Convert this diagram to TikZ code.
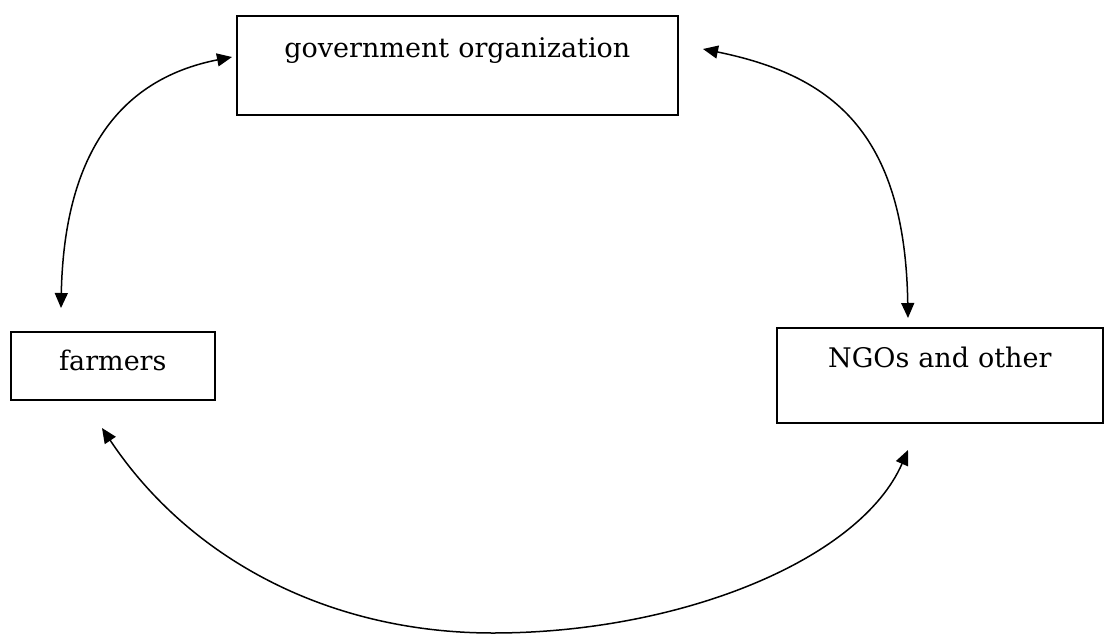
\documentclass[tikz,border=0pt]{standalone}
\usepackage{fontspec}
\setmainfont{DejaVu Serif}
\usetikzlibrary{arrows.meta}
\begin{document}
\begin{tikzpicture}[x=1pt,y=-1pt,
  box/.style={draw, line width=1.7pt, inner sep=0pt, align=center,
    font=\fontsize{27}{32}\selectfont},
  link/.style={line width=1.5pt, {Triangle[length=15pt,width=13pt]}-{Triangle[length=15pt,width=13pt]}}]
\useasboundingbox (0,0) rectangle (1104,635);
\node[box, anchor=north west, text width=441pt, text height=42pt, text depth=57pt] (gov) at (236,15) {government organization};
\node[box, anchor=north west, text width=204pt, text height=39pt, text depth=29pt] (farm) at (10,331) {farmers};
\node[box, anchor=north west, text width=326pt, text height=40pt, text depth=55pt] (ngo) at (776,327) {NGOs and other};
\coordinate (fTop) at (61,308);
\coordinate (gLeft) at (232,57);
\coordinate (gRight) at (703,49);
\coordinate (nTop) at (908,318);
\coordinate (fBot) at (102,428);
\coordinate (nBot) at (908,450);
\coordinate (low) at (493,633);
\draw[link] (fTop) .. controls (64,160) and (115,80) .. (gLeft);
\draw[link] (gRight) .. controls (830,75) and (905,130) .. (nTop);
\draw[link] (fBot) .. controls (190,560) and (330,633) .. (low) .. controls (680,633) and (860,560) .. (nBot);
\end{tikzpicture}
\end{document}
